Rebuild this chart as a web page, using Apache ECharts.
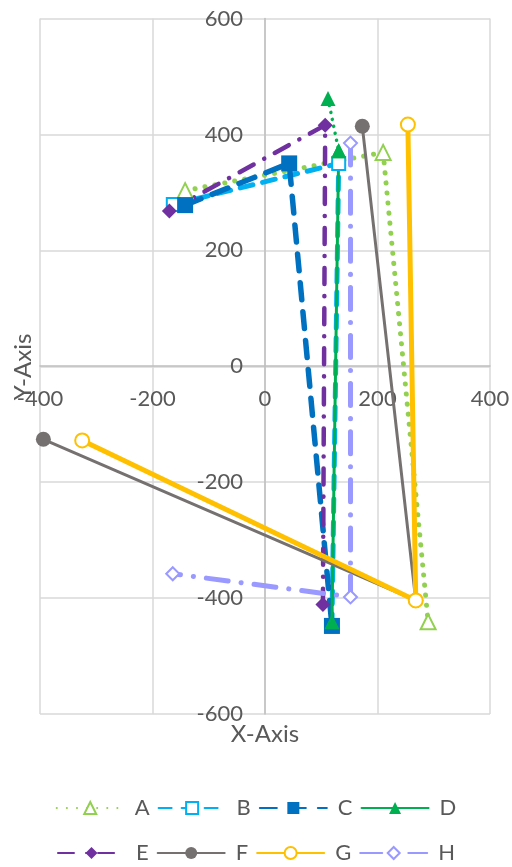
<!DOCTYPE html>
<html><head><meta charset="utf-8">
<script src="https://cdn.jsdelivr.net/npm/echarts@6/dist/echarts.min.js"></script>
<style>html,body{margin:0;padding:0;background:#fff}#c{width:512px;height:867px}</style>
</head><body><div id="c"></div>
<script>
const seriesNames = ['A','B','C','D','E','F','G','H'];
const xTicks = [-400,-200,0,200,400];
const yTicks = [-600,-400,-200,0,200,400,600];
const aData = [[-142,303],[210,369],[290,-441]];
const bData = [[-163,279],[131,350],[119,-448]];
const cData = [[-142,278],[43,350],[119,-448]];
const dData = [[112,462],[131,372],[119,-441]];
const eData = [[-170,268],[107,416],[103,-411]];
const fData = [[173,414],[268,-404],[-394,-126]];
const gData = [[254,417],[268,-404],[-325,-128]];
const hData = [[152,385],[152,-398],[-164,-358]];

const FONT = 'Lato';
const TXT = '#595959';
const chart = echarts.init(document.getElementById('c'), null, {renderer:'canvas'});

function mk(name, data, color, width, type, symbol, size, open, extra){
  return Object.assign({
    name, type:'line', data, showSymbol:true, symbol, symbolSize:size,
    lineStyle:{color, width, type, cap:'round', join:'round'},
    itemStyle: open ? {color:'#fff', borderColor:color, borderWidth:2} : {color, borderColor:color, borderWidth:0},
    emphasis:{disabled:true}, animation:false
  }, extra||{});
}

const series = [
  mk('A', aData, '#92D050', 5, [0.1, 10], 'triangle', 15, true),
  mk('B', bData, '#00B0F0', 5, [13, 10], 'rect', 13, true),
  mk('C', cData, '#0070C0', 5.5, [17, 12], 'rect', 16, false),
  mk('D', dData.slice(1), '#00B050', 3, 'solid', 'triangle', 15, false),
  mk('D2', dData.slice(0,2), '#00B050', 3.5, [0.1, 7], 'triangle', 15, false),
  mk('E', eData, '#7030A0', 4.5, [16, 12, 0.1, 12], 'diamond', 15, false),
  mk('F', fData, '#767171', 3, 'solid', 'circle', 15, false),
  mk('G', gData, '#FFC000', 5, 'solid', 'circle', 14, true),
  mk('H', hData, '#9999FF', 5, [22, 13, 0.1, 13], 'diamond', 13, true)
];

const legendCommon = {
  left:'center', itemWidth:67, itemHeight:15, itemGap:8,
  textStyle:{fontFamily:FONT, fontSize:22, color:TXT, padding:[0,0,0,6]},
  selectedMode:false
};

const axisLineStyle = {color:'#BFBFBF', width:1.5};
chart.setOption({
  animation:false,
  grid:{left:40, right:22, top:18.5, bottom:153, containLabel:false, outerBoundsMode:'none'},
  xAxis:{type:'value', min:-400, max:400, interval:200, position:'bottom', offset:-348,
    axisLine:{show:true, onZero:false, lineStyle:axisLineStyle},
    axisTick:{show:false},
    splitLine:{lineStyle:{color:'#D9D9D9', width:1.5}},
    axisLabel:{margin:22, fontFamily:FONT, fontSize:22, color:TXT, hideOverlap:false, showMinLabel:true, showMaxLabel:true,
      formatter: v => xTicks.includes(v) ? String(v) : ''}},
  yAxis:{type:'value', min:-600, max:600, interval:200, position:'left', offset:-225,
    axisLine:{show:true, onZero:false, lineStyle:axisLineStyle},
    axisTick:{show:false},
    splitLine:{lineStyle:{color:'#D9D9D9', width:1.5}},
    axisLabel:{margin:22, fontFamily:FONT, fontSize:22, color:TXT, hideOverlap:false, showMinLabel:true, showMaxLabel:true,
      formatter: v => yTicks.includes(v) ? String(v) : ''}},
  legend:[
    Object.assign({}, legendCommon, {top:792, data:seriesNames.slice(0,4)}),
    Object.assign({}, legendCommon, {top:837, data:seriesNames.slice(4)})
  ],
  graphic:[
    {type:'text', x:265, y:722, style:{text:'X-Axis', fontFamily:FONT, fontSize:24, fill:TXT, textAlign:'center', textVerticalAlign:'top'}},
    {type:'text', x:11, y:367, rotation:Math.PI/2, style:{text:'Y-Axis', fontFamily:FONT, fontSize:24, fill:TXT, textAlign:'center', textVerticalAlign:'top'}, originX:0, originY:0}
  ],
  series
});
</script></body></html>
